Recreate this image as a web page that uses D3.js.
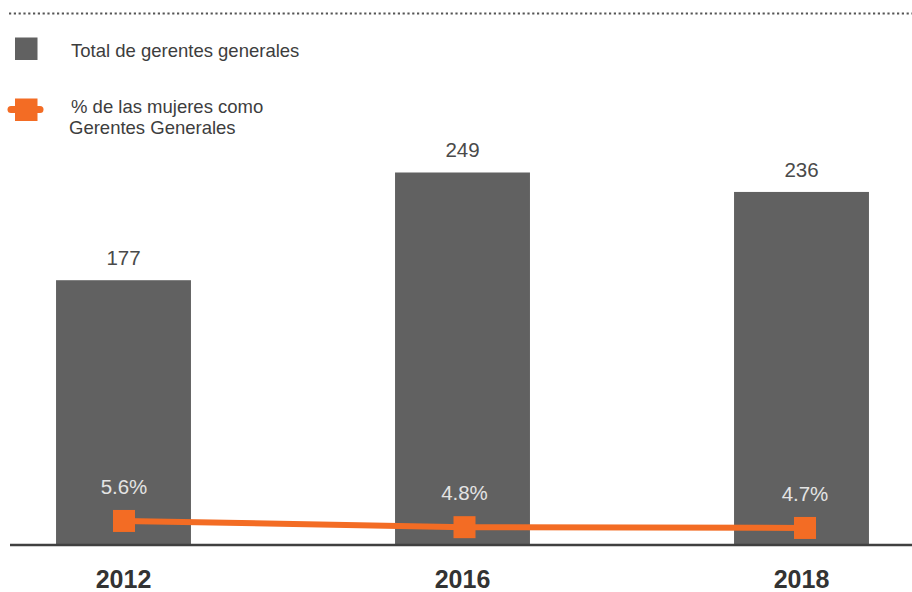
<!DOCTYPE html>
<html lang="es">
<head>
<meta charset="utf-8">
<script src="https://cdn.jsdelivr.net/npm/d3@7"></script>
<style>
  html, body { margin: 0; padding: 0; background: #ffffff; }
  svg { display: block; font-family: "Liberation Sans", Arial, Helvetica, sans-serif; }
</style>
</head>
<body>
<svg id="chart" width="912" height="592"></svg>
<script>
// Chart data
const years = ["2012", "2016", "2018"];
const totalManagers = [177, 249, 236];
const womenShare = [5.6, 4.8, 4.7];
const legendLabels = ["Total de gerentes generales", "% de las mujeres como", "Gerentes Generales"];

const barColor = "#616161";
const lineColor = "#F36C24";
const textColor = "#3d3d3d";

const svg = d3.select("#chart");
const W = 912, baseY = 545;

// Scales
const x = d3.scaleBand()
  .domain(years)
  .range([-46, 971])
  .paddingInner(0.602)
  .paddingOuter(0.301);

const y = d3.scaleLinear()
  .domain([0, 250])
  .range([baseY, baseY - 250 * 1.496]);

const xLine = d3.scalePoint()
  .domain(years)
  .range([124, 805]);

const yPct = d3.scaleLinear()
  .domain([4, 6])
  .range([533.4, 517.85]);

// Dotted rule across the top
svg.append("line")
  .attr("x1", 9).attr("x2", W)
  .attr("y1", 13.5).attr("y2", 13.5)
  .attr("stroke", "#555")
  .attr("stroke-width", 2.2)
  .attr("stroke-dasharray", "2.2 2.6");

// Legend
const legend = svg.append("g");
legend.append("rect")
  .attr("x", 15).attr("y", 37.5)
  .attr("width", 22.5).attr("height", 22.5)
  .attr("fill", barColor);
legend.append("text")
  .attr("x", 71).attr("y", 57)
  .attr("font-size", 18.5)
  .attr("fill", textColor)
  .text(legendLabels[0]);

legend.append("line")
  .attr("x1", 11).attr("x2", 40)
  .attr("y1", 109.5).attr("y2", 109.5)
  .attr("stroke", lineColor)
  .attr("stroke-width", 7)
  .attr("stroke-linecap", "round");
legend.append("rect")
  .attr("x", 15).attr("y", 98.5)
  .attr("width", 22.5).attr("height", 22.5)
  .attr("fill", lineColor);
legend.append("text")
  .attr("x", 71).attr("y", 113)
  .attr("font-size", 18.5)
  .attr("fill", textColor)
  .text(legendLabels[1]);
legend.append("text")
  .attr("x", 69).attr("y", 134)
  .attr("font-size", 18.5)
  .attr("fill", textColor)
  .text(legendLabels[2]);

// Bars
svg.append("g")
  .selectAll("rect")
  .data(years)
  .join("rect")
  .attr("x", d => x(d))
  .attr("width", x.bandwidth())
  .attr("y", (d, i) => y(totalManagers[i]))
  .attr("height", (d, i) => baseY - y(totalManagers[i]))
  .attr("fill", barColor);

// Bar value labels
svg.append("g")
  .selectAll("text")
  .data(years)
  .join("text")
  .attr("x", d => x(d) + x.bandwidth() / 2)
  .attr("y", (d, i) => y(totalManagers[i]) - 15)
  .attr("text-anchor", "middle")
  .attr("font-size", 20.5)
  .attr("fill", "#4a4a4a")
  .text((d, i) => totalManagers[i]);

// Baseline axis with year labels
const axis = svg.append("g")
  .attr("transform", `translate(0,${baseY})`)
  .call(d3.axisBottom(x).tickSize(0).tickPadding(0));
axis.select(".domain").remove();
axis.selectAll("text")
  .attr("y", 43)
  .attr("dy", 0)
  .attr("font-size", 25)
  .attr("font-weight", "bold")
  .attr("font-family", "'Liberation Sans', Arial, sans-serif")
  .attr("fill", "#333");
svg.append("line")
  .attr("x1", 10).attr("x2", W)
  .attr("y1", baseY).attr("y2", baseY)
  .attr("stroke", "#404040")
  .attr("stroke-width", 2.5);

// Women share line
const pts = years.map((d, i) => [xLine(d), yPct(womenShare[i])]);
svg.append("path")
  .attr("d", d3.line()(pts))
  .attr("fill", "none")
  .attr("stroke", lineColor)
  .attr("stroke-width", 6);

svg.append("g")
  .selectAll("rect")
  .data(pts)
  .join("rect")
  .attr("x", p => p[0] - 11)
  .attr("y", p => p[1] - 11)
  .attr("width", 22)
  .attr("height", 22)
  .attr("fill", lineColor);

svg.append("g")
  .selectAll("text")
  .data(years)
  .join("text")
  .attr("x", d => xLine(d))
  .attr("y", (d, i) => yPct(womenShare[i]) - 27)
  .attr("text-anchor", "middle")
  .attr("font-size", 20.5)
  .attr("fill", "#e4e4e4")
  .text((d, i) => womenShare[i].toFixed(1) + "%");
</script>
</body>
</html>
